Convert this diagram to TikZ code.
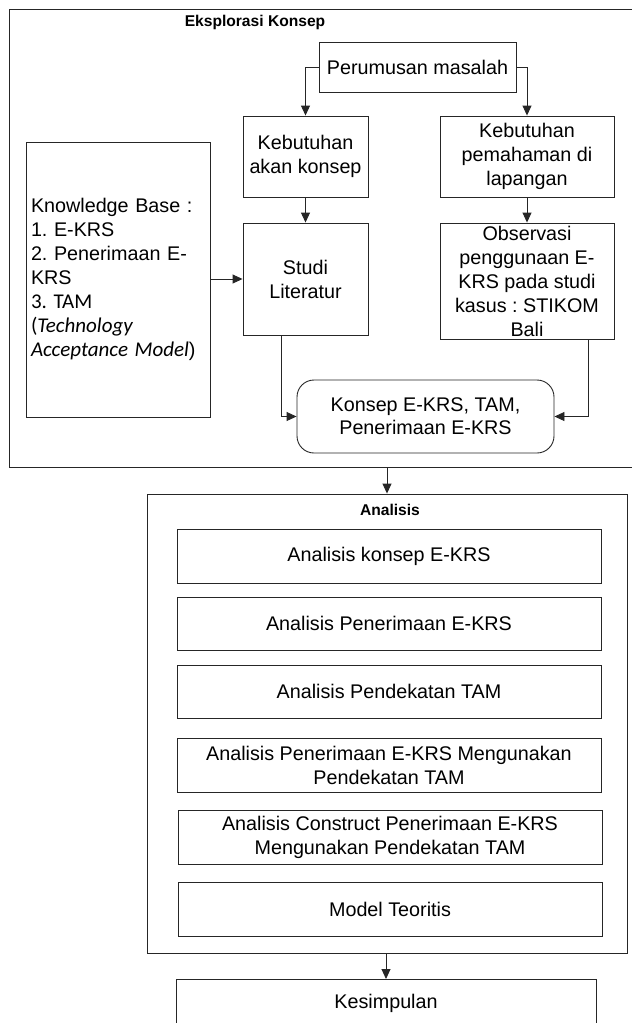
\documentclass[tikz,border=0pt]{standalone}
\usepackage{fontspec}
\setmainfont{Liberation Sans}
\newfontfamily\calfont{Carlito}
\usetikzlibrary{arrows.meta}
\newcommand\mainsz{\fontsize{19.75}{24}\selectfont}
\newcommand\calsz{\calfont\fontsize{21}{24}\selectfont}
\frenchspacing
\begin{document}
\begin{tikzpicture}[x=1pt,y=-1pt,
  line width=0.9pt,
  every node/.style={inner sep=0pt},
  box/.style={draw=black!85, font=\mainsz, align=center},
  frame/.style={draw=black!85},
  ttl/.style={font=\bfseries\fontsize{15.6}{18}\selectfont},
  arr/.style={draw=black!85, -{Triangle[length=10pt,width=9pt]}}]
\useasboundingbox (0,0) rectangle (632,1023);

% --- Eksplorasi Konsep frame ---
\node[frame, minimum width=636pt, minimum height=458pt] (eks) at (327,238) {};
\node[ttl] (t1) at (255,22) {Eksplorasi Konsep};

\node[box, minimum width=197pt, minimum height=50pt] (perum) at (417.5,67) {Perumusan masalah};
\node[box, minimum width=125pt, minimum height=81pt] (kak) at (305.5,156.5) {Kebutuhan\\akan konsep};
\node[box, minimum width=174pt, minimum height=81pt] (kpl) at (527,156.5) {Kebutuhan\\pemahaman di\\lapangan};
\node[box, minimum width=184pt, minimum height=275pt, text width=174pt, inner xsep=5pt, align=left] (kb) at (118,279.5)
  {Knowledge Base :\\1. E-KRS\\2. Penerimaan E-\\KRS\\{\calsz 3. TAM}\\{\calsz(\textit{Technology}}\\{\calsz\textit{Acceptance Model}})};
\node[box, minimum width=125pt, minimum height=112pt] (sl) at (305.5,279) {Studi\\Literatur};
\node[box, minimum width=174pt, minimum height=116pt] (obs) at (527,281) {Observasi\\penggunaan E-\\KRS pada studi\\kasus : STIKOM\\Bali};
\node[box, rounded corners=17pt, minimum width=257pt, minimum height=73pt, font=\fontsize{19.75}{23}\selectfont] (kon) at (425.5,416.5) {Konsep E-KRS, TAM,\\Penerimaan E-KRS};

\draw[arr] (perum.west) -| (kak.north);
\draw[arr] (perum.east) -| (kpl.north);
\draw[arr] (kak.south) -- (sl.north);
\draw[arr] (kpl.south) -- (obs.north);
\draw[arr] (kb.east |- sl.west) -- (sl.west);
\draw[arr] ([xshift=-24.5pt]sl.south) |- (kon.west);
\draw[arr] ([xshift=61pt]obs.south) |- (kon.east);

% --- Analisis frame ---
\node[frame, minimum width=480pt, minimum height=459pt] (ana) at (387,723.5) {};
\node[ttl] (t2) at (390,510) {Analisis};

\node[box, minimum width=424pt, minimum height=54pt] (a1) at (389,556) {Analisis konsep E-KRS};
\node[box, minimum width=424pt, minimum height=53pt] (a2) at (389,623.5) {Analisis Penerimaan E-KRS};
\node[box, minimum width=424pt, minimum height=53pt] (a3) at (389,691.5) {Analisis Pendekatan TAM};
\node[box, minimum width=424pt, minimum height=54pt] (a4) at (389,765) {Analisis Penerimaan E-KRS Mengunakan\\Pendekatan TAM};
\node[box, minimum width=424pt, minimum height=54pt] (a5) at (390,837) {Analisis Construct Penerimaan E-KRS\\Mengunakan Pendekatan TAM};
\node[box, minimum width=424pt, minimum height=54pt] (a6) at (390,909) {Model Teoritis};

\draw[arr] (eks.south -| ana.north) -- (ana.north);

% --- Kesimpulan ---
\node[box, minimum width=420pt, text height=29pt, text depth=40pt, anchor=north] (kes) at (386,979) {Kesimpulan};
\draw[arr] (ana.south -| kes.north) -- (kes.north);
\end{tikzpicture}
\end{document}
